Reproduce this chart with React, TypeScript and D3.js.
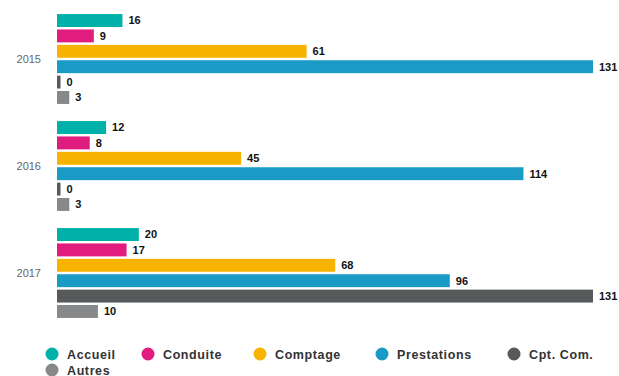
import React from "react";
import * as d3 from "d3";

const years = ["2015", "2016", "2017"];
const seriesNames = ["Accueil", "Conduite", "Comptage", "Prestations", "Cpt. Com.", "Autres"];
const colors = ["#00b1a9", "#e01c7e", "#f8b200", "#1a9bc5", "#58595b", "#87888a"];
const accueil = [16, 12, 20];
const conduite = [9, 8, 17];
const comptage = [61, 45, 68];
const prestations = [131, 114, 96];
const cptCom = [0, 0, 131];
const autres = [3, 3, 10];
const seriesValues = [accueil, conduite, comptage, prestations, cptCom, autres];

const W = 619, H = 376;

export default function App() {
  const x = d3.scaleLinear().domain([0, 131]).range([57, 593]);
  const y0 = d3.scaleBand().domain(years).range([5.5, 326.5]).paddingInner(0.16).paddingOuter(0.08);
  const y1 = d3.scaleBand().domain(seriesNames).range([0, y0.bandwidth()]).paddingInner(0.16);
  const legendPos = [
    { cx: 52, cy: 354 },
    { cx: 148, cy: 354 },
    { cx: 260, cy: 354 },
    { cx: 382, cy: 354 },
    { cx: 514, cy: 354 },
    { cx: 52, cy: 370 },
  ];
  return (
    <svg width={W} height={H} style={{ position: "absolute", left: 0, top: 0, fontFamily: "Liberation Sans, Arial, sans-serif" }}>
      <rect width={W} height={H} fill="#fff" />
      {years.map((yr, i) => (
        <g key={yr} transform={`translate(0,${y0(yr)})`}>
          <text x={41} y={y0.bandwidth() / 2} dy="0.35em" textAnchor="end" fontSize={11} fill="#666">{yr}</text>
          {seriesNames.map((s, j) => {
            const v = seriesValues[j][i];
            const w = Math.max(x(v) - x(0), 3.5);
            return (
              <g key={s}>
                <rect x={x(0)} y={y1(s)} width={w} height={y1.bandwidth()} fill={colors[j]} />
                <text x={x(0) + w + 6} y={(y1(s) ?? 0) + y1.bandwidth() / 2} dy="0.35em" fontSize={11} fontWeight="bold" fill="#111">{v}</text>
              </g>
            );
          })}
        </g>
      ))}
      {seriesNames.map((s, j) => (
        <g key={s}>
          <circle cx={legendPos[j].cx} cy={legendPos[j].cy} r={6.5} fill={colors[j]} />
          <text x={legendPos[j].cx + 15} y={legendPos[j].cy} dy="0.36em" fontSize={12.5} fontWeight="bold" fill="#333" letterSpacing="0.6">{s}</text>
        </g>
      ))}
    </svg>
  );
}
